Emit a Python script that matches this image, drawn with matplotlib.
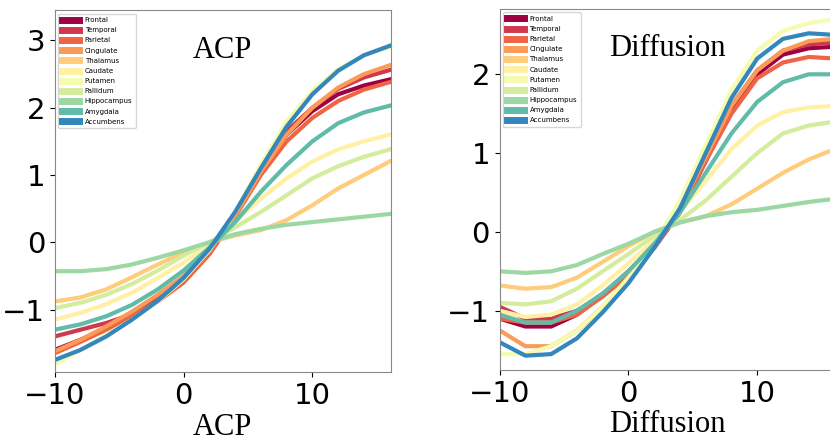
import numpy as np
import matplotlib
matplotlib.use("Agg")
import matplotlib.pyplot as plt

regions = ["Frontal", "Temporal", "Parietal", "Cingulate", "Thalamus", "Caudate",
           "Putamen", "Pallidum", "Hippocampus", "Amygdala", "Accumbens"]
x = [-10, -8, -6, -4, -2, 0, 2, 4, 6, 8, 10, 12, 14, 16]

acp = [
    [-1.6, -1.45, -1.28, -1.08, -0.83, -0.55, -0.15, 0.4, 1.05, 1.6, 1.95, 2.2, 2.33, 2.42],
    [-1.4, -1.3, -1.2, -1.07, -0.85, -0.55, -0.15, 0.4, 1.05, 1.65, 2.0, 2.28, 2.45, 2.56],
    [-1.65, -1.48, -1.3, -1.1, -0.88, -0.6, -0.18, 0.38, 1.0, 1.5, 1.85, 2.1, 2.27, 2.38],
    [-1.62, -1.45, -1.25, -1.03, -0.78, -0.5, -0.12, 0.4, 1.05, 1.6, 2.0, 2.3, 2.5, 2.63],
    [-0.88, -0.82, -0.7, -0.52, -0.33, -0.15, 0.0, 0.1, 0.18, 0.33, 0.55, 0.8, 1.0, 1.2],
    [-1.15, -1.05, -0.92, -0.75, -0.53, -0.3, -0.05, 0.3, 0.65, 0.95, 1.2, 1.38, 1.5, 1.6],
    [-1.82, -1.6, -1.38, -1.15, -0.88, -0.55, -0.12, 0.45, 1.15, 1.8, 2.25, 2.57, 2.78, 2.9],
    [-0.98, -0.9, -0.78, -0.62, -0.42, -0.2, 0.0, 0.22, 0.45, 0.7, 0.95, 1.13, 1.27, 1.38],
    [-0.43, -0.43, -0.4, -0.33, -0.23, -0.12, 0.0, 0.12, 0.2, 0.26, 0.3, 0.34, 0.38, 0.42],
    [-1.3, -1.22, -1.1, -0.93, -0.7, -0.42, -0.08, 0.3, 0.75, 1.15, 1.5, 1.77, 1.93, 2.03],
    [-1.75, -1.6, -1.4, -1.15, -0.87, -0.53, -0.1, 0.45, 1.1, 1.72, 2.2, 2.55, 2.78, 2.92],
]

diffusion = [
    [-1.1, -1.2, -1.2, -1.05, -0.8, -0.5, -0.2, 0.25, 0.9, 1.55, 2.0, 2.25, 2.33, 2.35],
    [-0.95, -1.1, -1.1, -1.0, -0.8, -0.5, -0.18, 0.25, 0.9, 1.6, 2.05, 2.3, 2.38, 2.4],
    [-1.1, -1.15, -1.15, -1.05, -0.82, -0.55, -0.2, 0.25, 0.9, 1.5, 1.95, 2.15, 2.22, 2.2],
    [-1.25, -1.45, -1.45, -1.25, -0.95, -0.6, -0.2, 0.3, 0.95, 1.6, 2.05, 2.3, 2.42, 2.45],
    [-0.68, -0.72, -0.7, -0.58, -0.38, -0.18, 0.0, 0.12, 0.2, 0.35, 0.55, 0.75, 0.92, 1.05],
    [-1.0, -1.08, -1.05, -0.92, -0.68, -0.4, -0.1, 0.25, 0.65, 1.05, 1.35, 1.52, 1.58, 1.6],
    [-1.55, -1.55, -1.45, -1.25, -0.95, -0.58, -0.15, 0.4, 1.1, 1.8, 2.3, 2.55, 2.65, 2.7],
    [-0.9, -0.92, -0.88, -0.72, -0.5, -0.28, -0.05, 0.15, 0.4, 0.7, 1.0, 1.25, 1.35, 1.4],
    [-0.5, -0.52, -0.5, -0.42, -0.28, -0.15, 0.0, 0.12, 0.2, 0.25, 0.28, 0.33, 0.38, 0.42],
    [-1.05, -1.15, -1.15, -1.0, -0.78, -0.5, -0.15, 0.25, 0.75, 1.25, 1.65, 1.9, 2.0, 2.0],
    [-1.4, -1.57, -1.55, -1.35, -1.02, -0.65, -0.2, 0.3, 1.0, 1.7, 2.2, 2.45, 2.52, 2.5],
]

colors = plt.cm.Spectral(np.linspace(0, 0.9, len(regions)))
serif = "Liberation Serif"

fig = plt.figure(figsize=(8.3, 4.44), dpi=100)
ax1 = fig.add_axes([0.066, 0.162, 0.405, 0.815])
ax2 = fig.add_axes([0.602, 0.167, 0.405, 0.813])

for ax, data, name, ylim in [(ax1, acp, "ACP", (-1.93, 3.45)),
                             (ax2, diffusion, "Diffusion", (-1.75, 2.83))]:
    for i, r in enumerate(regions):
        ax.plot(x, data[i], color=colors[i], lw=3, label=r, solid_joinstyle="round")
    ax.set_xlim(-10, 16.1)
    ax.set_ylim(*ylim)
    ax.set_xticks([-10, 0, 10])
    ax.tick_params(labelsize=21)
    ax.set_xlabel(name, fontsize=22, family=serif, labelpad=2)
    ax.text(0.5, 0.93, name, transform=ax.transAxes, fontsize=22, family=serif,
            ha="center", va="top")
    for s in ax.spines.values():
        s.set_color("#888888")
    leg = ax.legend(loc="upper left", fontsize=5, handlelength=2.5, labelspacing=0.6,
                    borderpad=0.5)
    for h in leg.legend_handles:
        h.set_linewidth(5)
ax1.set_yticks([-1, 0, 1, 2, 3])
ax2.set_yticks([-1, 0, 1, 2])

fig.savefig("out.png")
